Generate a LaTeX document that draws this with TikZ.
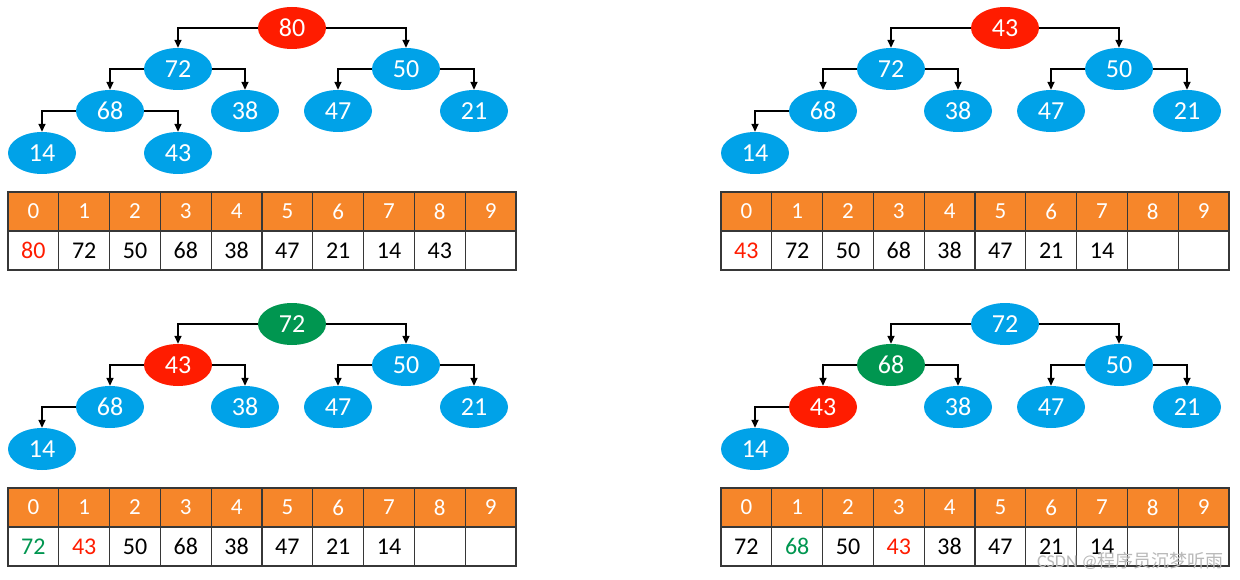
\documentclass[tikz,border=0pt]{standalone}
\usepackage{fontspec}
\setmainfont{Carlito}
\newfontfamily\cjk{Noto Sans CJK SC}
\usetikzlibrary{arrows.meta,shapes.geometric}
\definecolor{bblue}{RGB}{0,162,232}
\definecolor{bred}{RGB}{255,28,0}
\definecolor{bgreen}{RGB}{0,150,80}
\definecolor{horange}{RGB}{246,134,42}
\definecolor{cellline}{RGB}{55,55,55}
\tikzset{
  bub/.style={ellipse,fill=bblue,text=white,minimum width=68pt,minimum height=42pt,inner sep=0pt,font=\fontsize{26}{26}\selectfont},
  hot/.style={fill=bred},
  top/.style={fill=bgreen},
  edge/.style={draw=black,line width=1.6pt,-{Triangle[length=8pt,width=7pt]}},
  hcell/.style={rectangle,draw=cellline,line width=1.2pt,fill=horange,text=white,minimum width=50.8pt,minimum height=39pt,inner sep=0pt,font=\fontsize{23}{23}\selectfont},
  dcell/.style={rectangle,draw=cellline,line width=1.2pt,fill=white,minimum width=50.8pt,minimum height=39pt,inner sep=0pt,font=\fontsize{24}{24}\selectfont},
}
\newcommand\heapcoords{%
  \coordinate (P0) at (292,28);
  \coordinate (P1) at (178,69);
  \coordinate (P2) at (406,69);
  \coordinate (P3) at (110,111);
  \coordinate (P4) at (245,111);
  \coordinate (P5) at (338,111);
  \coordinate (P6) at (474,111);
  \coordinate (P7) at (42,153);
  \coordinate (P8) at (178,153);
}
\newcommand\heaptable[1]{%
  \foreach \j in {0,...,9} \node[hcell] (h\j) at ({33.4+50.8*\j},211.5) {\j};
  \foreach \j/\v/\c in {#1} \node[dcell,text=\c] (d\j) at ({33.4+50.8*\j},250.5) {\v};
}
\begin{document}
\begin{tikzpicture}[x=1pt,y=-1pt]
\useasboundingbox[fill=white] (0,0) rectangle (1240,580);
% ---------- top left
\begin{scope}[name prefix=a-]
  \heapcoords
  \foreach \i/\t/\s in {0/80/hot,1/72/,2/50/,3/68/,4/38/,5/47/,6/21/,7/14/,8/43/}
    \node[bub,\s] (n\i) at (P\i) {\t};
  \foreach \p/\c/\sd in {0/1/west,0/2/east,1/3/west,1/4/east,2/5/west,2/6/east,3/7/west,3/8/east}
    \draw[edge] (n\p.\sd) -| (n\c.north);
  \heaptable{0/80/bred,1/72/black,2/50/black,3/68/black,4/38/black,5/47/black,6/21/black,7/14/black,8/43/black,9//black}
\end{scope}
% ---------- top right
\begin{scope}[shift={(713,0)},name prefix=b-]
  \heapcoords
  \foreach \i/\t/\s in {0/43/hot,1/72/,2/50/,3/68/,4/38/,5/47/,6/21/,7/14/}
    \node[bub,\s] (n\i) at (P\i) {\t};
  \foreach \p/\c/\sd in {0/1/west,0/2/east,1/3/west,1/4/east,2/5/west,2/6/east,3/7/west}
    \draw[edge] (n\p.\sd) -| (n\c.north);
  \heaptable{0/43/bred,1/72/black,2/50/black,3/68/black,4/38/black,5/47/black,6/21/black,7/14/black,8//black,9//black}
\end{scope}
% ---------- bottom left
\begin{scope}[shift={(0,296)},name prefix=c-]
  \heapcoords
  \foreach \i/\t/\s in {0/72/top,1/43/hot,2/50/,3/68/,4/38/,5/47/,6/21/,7/14/}
    \node[bub,\s] (n\i) at (P\i) {\t};
  \foreach \p/\c/\sd in {0/1/west,0/2/east,1/3/west,1/4/east,2/5/west,2/6/east,3/7/west}
    \draw[edge] (n\p.\sd) -| (n\c.north);
  \heaptable{0/72/bgreen,1/43/bred,2/50/black,3/68/black,4/38/black,5/47/black,6/21/black,7/14/black,8//black,9//black}
\end{scope}
% ---------- bottom right
\begin{scope}[shift={(713,296)},name prefix=d-]
  \heapcoords
  \foreach \i/\t/\s in {0/72/,1/68/top,2/50/,3/43/hot,4/38/,5/47/,6/21/,7/14/}
    \node[bub,\s] (n\i) at (P\i) {\t};
  \foreach \p/\c/\sd in {0/1/west,0/2/east,1/3/west,1/4/east,2/5/west,2/6/east,3/7/west}
    \draw[edge] (n\p.\sd) -| (n\c.north);
  \heaptable{0/72/black,1/68/bgreen,2/50/black,3/43/bred,4/38/black,5/47/black,6/21/black,7/14/black,8//black,9//black}
\end{scope}
\node[anchor=east,text=gray!55,font=\fontsize{18}{18}\selectfont,inner sep=0pt] (wm) at (1224,561) {CSDN @{\cjk 程序员沉梦听雨}};
\end{tikzpicture}
\end{document}
